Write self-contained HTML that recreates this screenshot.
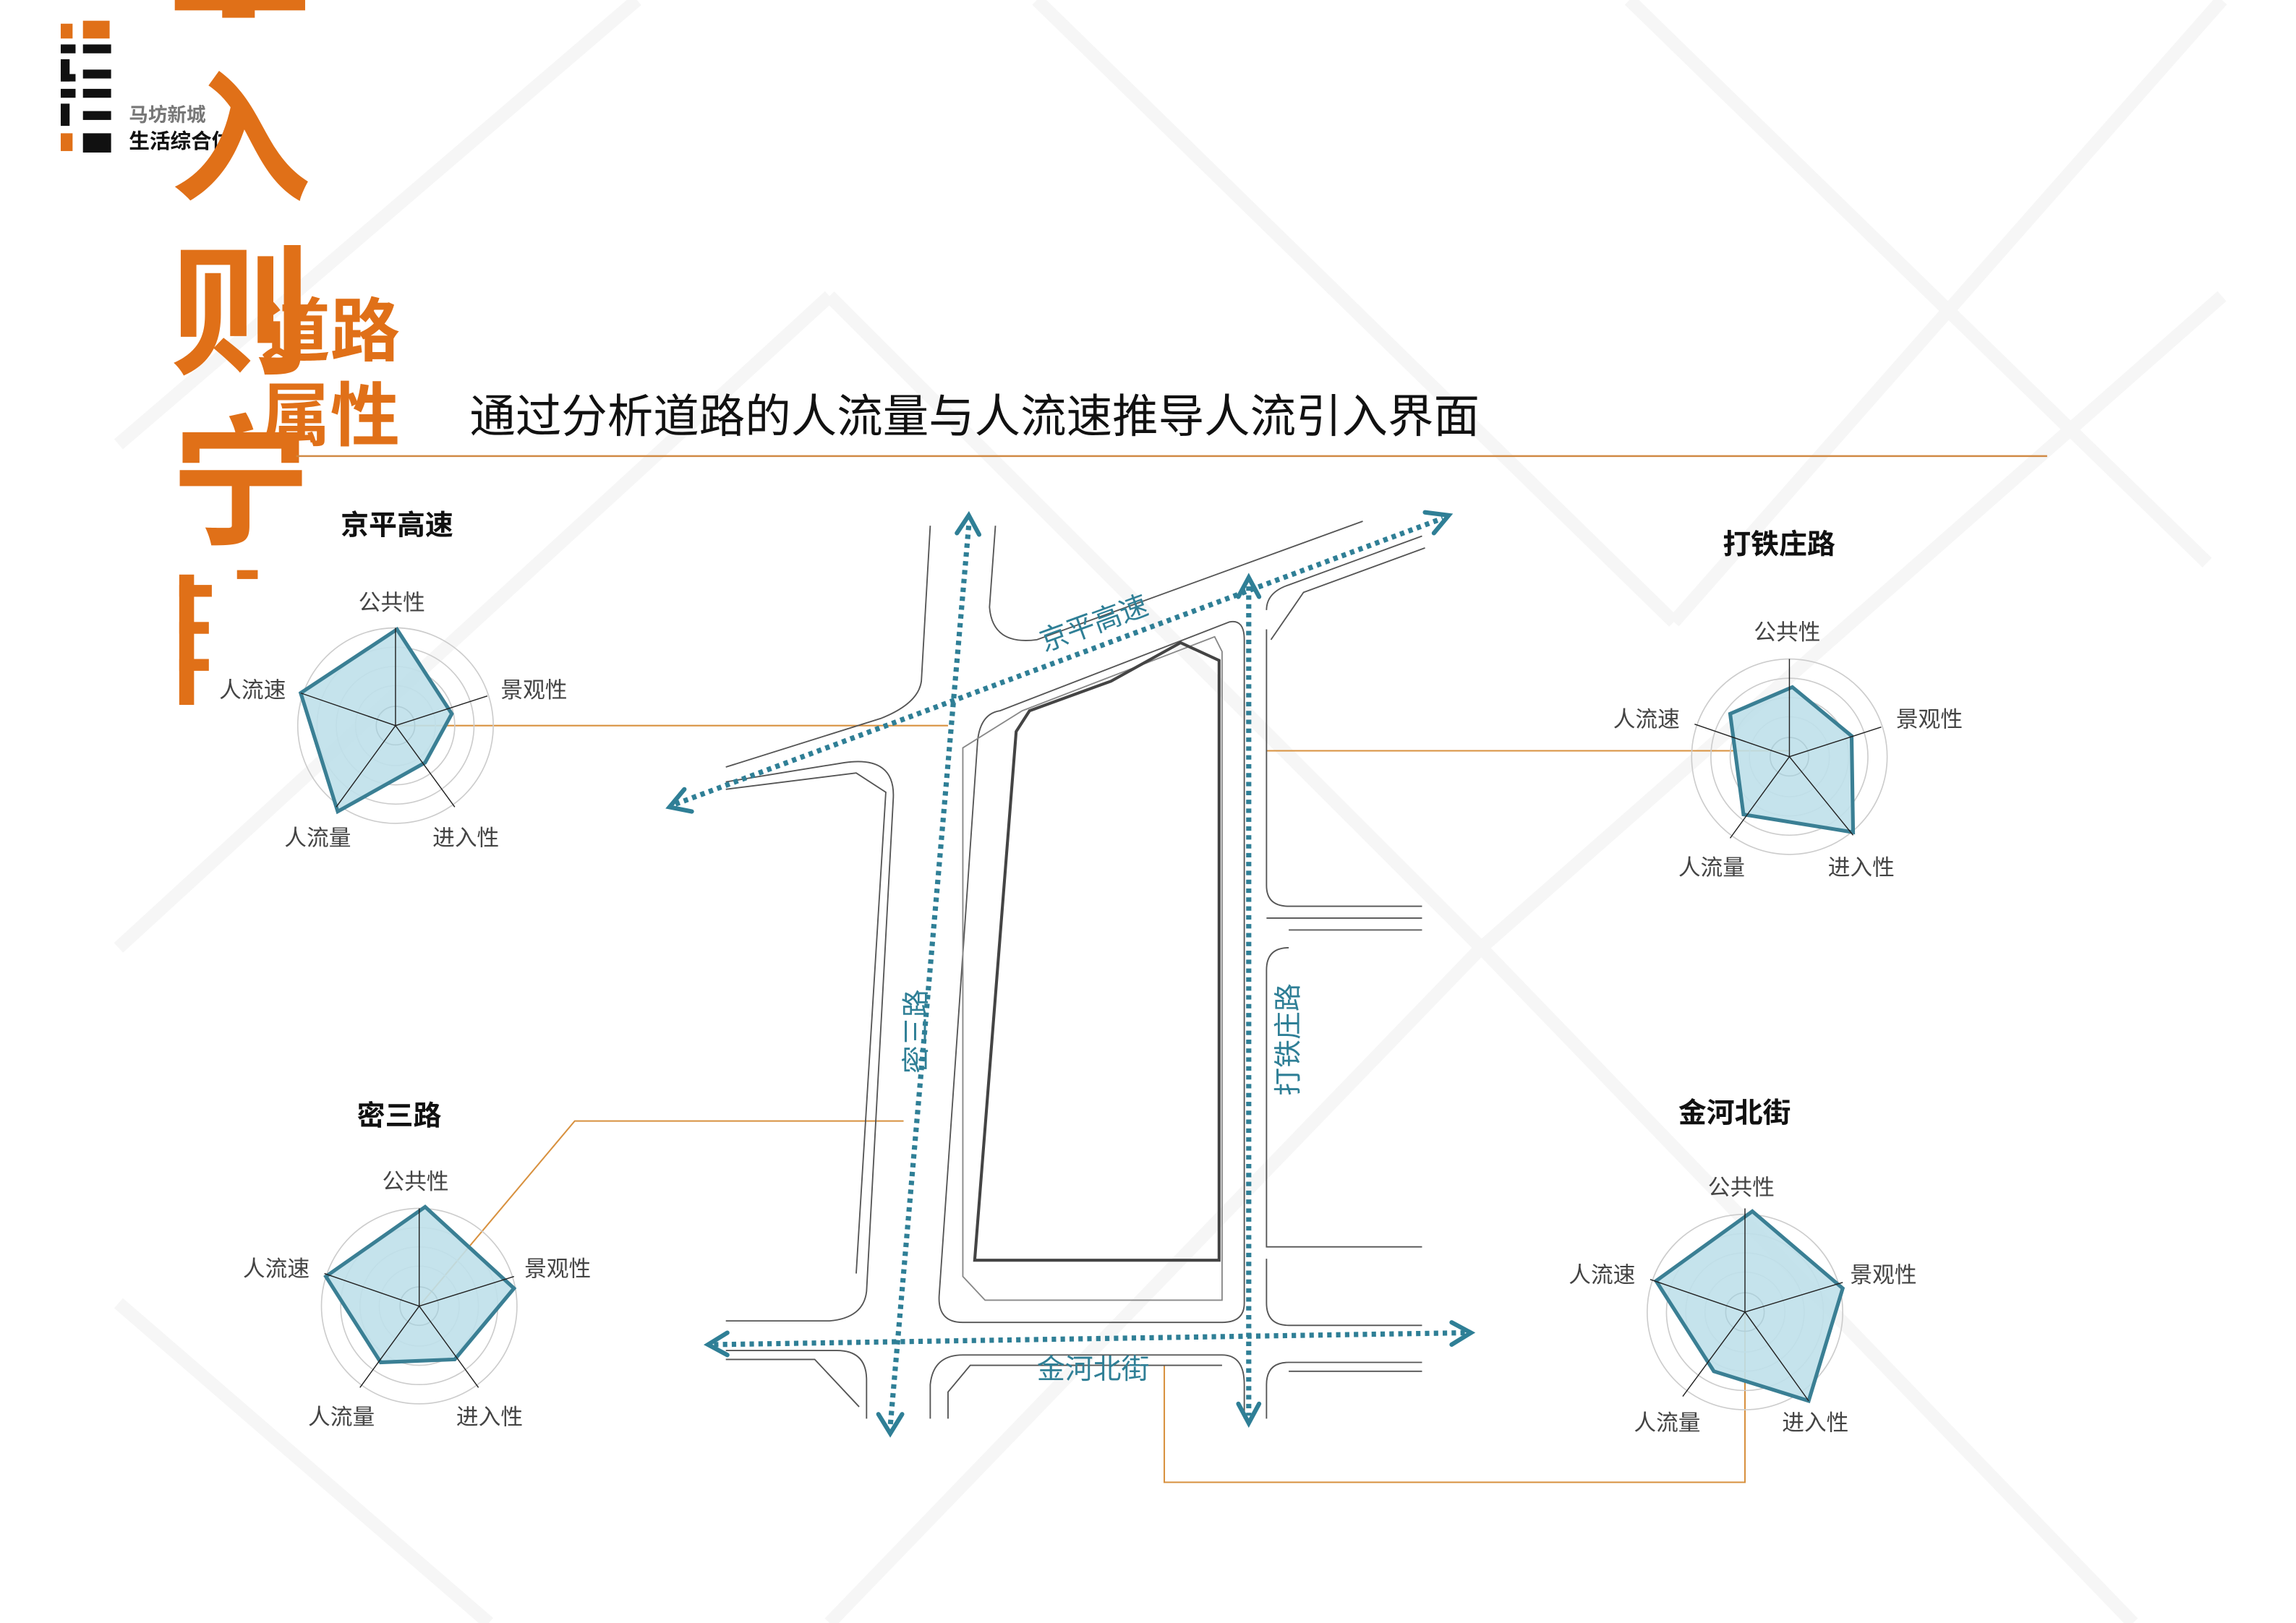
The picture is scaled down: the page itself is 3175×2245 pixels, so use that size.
<!DOCTYPE html>
<html><head><meta charset="utf-8"><style>
html,body{margin:0;padding:0;background:#fff}
svg{display:block}
text{font-family:"Liberation Sans","Noto Sans CJK SC",sans-serif}
</style></head><body>
<svg width="3175" height="2245" viewBox="0 0 1550 1096" preserveAspectRatio="none" xmlns="http://www.w3.org/2000/svg">
<rect width="1550" height="1096" fill="#fff"/>
<!-- faint watermark diagonals -->
<g stroke="#f6f6f6" stroke-width="9" fill="none">
<path d="M80 640 L560 200 M560 200 L1000 640 M700 0 L1130 420 M1130 420 L1500 0 M1000 640 L1500 200 M80 880 L330 1096 M560 1096 L1000 640 M1000 640 L1440 1096 M1100 0 L1490 380 M80 300 L430 0"/>
</g>
<!-- logo -->
<g>
<rect x="41" y="16" width="8" height="10" fill="#e07018"/><rect x="56" y="14" width="18" height="12" fill="#e07018"/>
<rect x="41" y="30" width="10" height="6" fill="#111"/><rect x="56" y="30" width="19" height="6" fill="#111"/>
<rect x="41" y="40" width="6" height="15" fill="#111"/><rect x="41" y="50" width="10" height="5" fill="#111"/><rect x="56" y="47" width="19" height="6" fill="#111"/>
<rect x="41" y="60" width="10" height="6" fill="#111"/><rect x="56" y="60" width="19" height="6" fill="#111"/>
<rect x="41" y="70" width="6" height="15" fill="#111"/><rect x="56" y="75" width="19" height="6" fill="#111"/>
<rect x="41" y="90" width="8" height="12" fill="#e07018"/><rect x="56" y="90" width="19" height="13" fill="#111"/>
<text x="87" y="82" font-size="13" font-weight="bold" fill="#777">马坊新城</text>
<text x="87" y="100" font-size="14" font-weight="bold" fill="#111">生活综合体</text>
</g>
<!-- big orange chars -->
<g fill="#e07018" font-weight="bold" font-size="95">
<rect x="118" y="0" width="88" height="7"/><rect x="150" y="0" width="22" height="12"/>
<text x="115" y="128">入</text>
<text x="115" y="245">则</text>
<text x="115" y="360">宁</text>
<rect x="121" y="388" width="10" height="88"/><rect x="121" y="395" width="22" height="8"/><rect x="121" y="420" width="20" height="8"/><rect x="121" y="445" width="20" height="8"/><rect x="160" y="385" width="14" height="6"/>
</g>
<g fill="#e07018" font-weight="bold" font-size="47">
<text x="176" y="240">道路</text>
<text x="176" y="297">属性</text>
</g>
<text x="317" y="292" font-size="31" fill="#111">通过分析道路的人流量与人流速推导人流引入界面</text>
<line x1="200" y1="308" x2="1382" y2="308" stroke="#d08a45" stroke-width="1.2"/>

<!-- orange connectors -->
<g stroke="#d8913f" stroke-width="1" fill="none">
<path d="M267 490 L640 490"/>
<path d="M1208 507 L855 507"/>
<path d="M283 882 L388 757 L610 757"/>
<path d="M1178 886 L1178 1001 L786 1001 L786 922"/>
</g>

<!-- roads -->
<g stroke="#555" stroke-width="0.9" fill="none">
<path d="M628 355 L622 460 Q620 475 595 485 L490 518"/>
<path d="M490 528 L570 515 Q605 510 603 540 L585 872 Q583 890 560 892 L490 892"/>
<path d="M490 533 L578 522 L598 535 L578 860"/>
<path d="M672 355 L668 410 Q670 436 700 432 L920 352"/>
<path d="M675 480 L830 420 Q840 418 840 432 L840 880 Q840 893 825 893 L650 893 Q633 893 634 875 L660 500 Q662 482 675 480"/>
<path d="M650 505 L690 480 L820 430 L825 440 L825 878 L665 878 L650 862 Z" stroke="#888"/>
<path d="M855 412 Q855 400 870 395 L960 362"/>
<path d="M858 432 L880 400 L962 370"/>
<path d="M855 425 L855 598 Q855 612 870 612 L960 612"/>
<path d="M960 620 L855 620 M960 628 L870 628"/>
<path d="M870 640 Q855 640 855 655 L855 842 L960 842"/>
<path d="M855 850 L855 880 Q855 895 870 895 L960 895"/>
<path d="M960 920 L870 920 Q855 920 855 935 L855 958"/>
<path d="M960 926 L870 926"/>
<path d="M490 912 L565 912 Q585 912 585 932 L585 958"/>
<path d="M490 918 L550 918 L580 950"/>
<path d="M628 958 L628 935 Q630 915 650 915 L825 915 Q840 915 840 935 L840 958"/>
<path d="M640 958 L640 940 L655 922 L825 922"/>
</g>
<!-- site -->
<path d="M658 851 L686 494 L695 480 L750 460 L797 434 L823 446 L823 851 Z" fill="none" stroke="#444" stroke-width="2"/>

<!-- dotted arrows -->
<g stroke="#2f7f96" stroke-width="3.5" stroke-dasharray="3,3" fill="none">
<path d="M456 543 L974 350"/>
<path d="M654 355 L601 963"/>
<path d="M843 396 L843 956"/>
<path d="M482 908 L990 900"/>
</g>
<g stroke="#2f7f96" stroke-width="3" fill="none" stroke-linecap="round">
<path d="M462 533 L452 545 L467 548"/>
<path d="M962 346 L978 348 L968 360"/>
<path d="M646 360 L654 348 L661 361"/>
<path d="M593 955 L601 968 L609 955"/>
<path d="M836 403 L843 390 L850 403"/>
<path d="M836 948 L843 961 L850 948"/>
<path d="M491 900 L478 908 L491 915"/>
<path d="M980 893 L993 900 L980 908"/>
</g>
<g fill="#2f7f96" font-size="19">
<text x="705" y="440" transform="rotate(-20 705 440)">京平高速</text>
<text x="625" y="725" transform="rotate(-90 625 725)">密三路</text>
<text x="876" y="740" transform="rotate(-90 876 740)">打铁庄路</text>
<text x="700" y="931">金河北街</text>
</g>

<!-- radar charts -->
<g font-size="15" fill="#444">
<text x="230" y="361" font-size="19" font-weight="bold" fill="#111">京平高速</text>
<g transform="translate(267,490)">
<g fill="none" stroke="#ccc" stroke-width="0.8"><circle r="66"/><circle r="53"/><circle r="40"/><circle r="27"/></g>
<circle r="13" fill="none" stroke="#333" stroke-width="0.8"/>
<polygon points="1,-65 38,-8 20,25 -39,58 -64,-22" fill="#bfe0ea" fill-opacity="0.9" stroke="#3a7f94" stroke-width="2.5"/>
<g stroke="#222" stroke-width="0.7"><line x1="0" y1="0" x2="0" y2="-66"/><line x1="0" y1="0" x2="62" y2="-20"/><line x1="0" y1="0" x2="40" y2="55"/><line x1="0" y1="0" x2="-40" y2="55"/><line x1="0" y1="0" x2="-64" y2="-22"/></g>
</g>
<text x="242" y="412">公共性</text><text x="338" y="471">景观性</text><text x="292" y="571">进入性</text><text x="192" y="571">人流量</text><text x="148" y="471">人流速</text>
<text x="1163" y="374" font-size="19" font-weight="bold" fill="#111">打铁庄路</text>
<g transform="translate(1208,511)">
<g fill="none" stroke="#ccc" stroke-width="0.8"><circle r="66"/><circle r="53"/><circle r="40"/><circle r="27"/></g>
<circle r="13" fill="none" stroke="#333" stroke-width="0.8"/>
<polygon points="2,-47 42,-14 43,51 -31,39 -40,-29" fill="#bfe0ea" fill-opacity="0.9" stroke="#3a7f94" stroke-width="2.5"/>
<g stroke="#222" stroke-width="0.7"><line x1="0" y1="0" x2="0" y2="-66"/><line x1="0" y1="0" x2="62" y2="-20"/><line x1="0" y1="0" x2="43" y2="53"/><line x1="0" y1="0" x2="-40" y2="55"/><line x1="0" y1="0" x2="-64" y2="-22"/></g>
</g>
<text x="1184" y="432">公共性</text><text x="1280" y="491">景观性</text><text x="1234" y="591">进入性</text><text x="1133" y="591">人流量</text><text x="1089" y="491">人流速</text>
<text x="241" y="760" font-size="19" font-weight="bold" fill="#111">密三路</text>
<g transform="translate(283,882)">
<g fill="none" stroke="#ccc" stroke-width="0.8"><circle r="66"/><circle r="53"/><circle r="40"/><circle r="27"/></g>
<circle r="13" fill="none" stroke="#333" stroke-width="0.8"/>
<polygon points="4,-67 64,-12 24,36 -26,38 -63,-20" fill="#bfe0ea" fill-opacity="0.9" stroke="#3a7f94" stroke-width="2.5"/>
<g stroke="#222" stroke-width="0.7"><line x1="0" y1="0" x2="0" y2="-66"/><line x1="0" y1="0" x2="64" y2="-20"/><line x1="0" y1="0" x2="40" y2="55"/><line x1="0" y1="0" x2="-40" y2="55"/><line x1="0" y1="0" x2="-64" y2="-22"/></g>
</g>
<text x="258" y="803">公共性</text><text x="354" y="862">景观性</text><text x="308" y="962">进入性</text><text x="208" y="962">人流量</text><text x="164" y="862">人流速</text>
<text x="1133" y="758" font-size="19" font-weight="bold" fill="#111">金河北街</text>
<g transform="translate(1178,886)">
<g fill="none" stroke="#ccc" stroke-width="0.8"><circle r="66"/><circle r="53"/><circle r="40"/><circle r="27"/></g>
<circle r="13" fill="none" stroke="#333" stroke-width="0.8"/>
<polygon points="5,-68 66,-16 43,60 -21,40 -60,-21" fill="#bfe0ea" fill-opacity="0.9" stroke="#3a7f94" stroke-width="2.5"/>
<g stroke="#222" stroke-width="0.7"><line x1="0" y1="0" x2="0" y2="-70"/><line x1="0" y1="0" x2="66" y2="-20"/><line x1="0" y1="0" x2="43" y2="60"/><line x1="0" y1="0" x2="-42" y2="57"/><line x1="0" y1="0" x2="-64" y2="-22"/></g>
</g>
<text x="1153" y="807">公共性</text><text x="1249" y="866">景观性</text><text x="1203" y="966">进入性</text><text x="1103" y="966">人流量</text><text x="1059" y="866">人流速</text>
</g>
</svg>
</body></html>
